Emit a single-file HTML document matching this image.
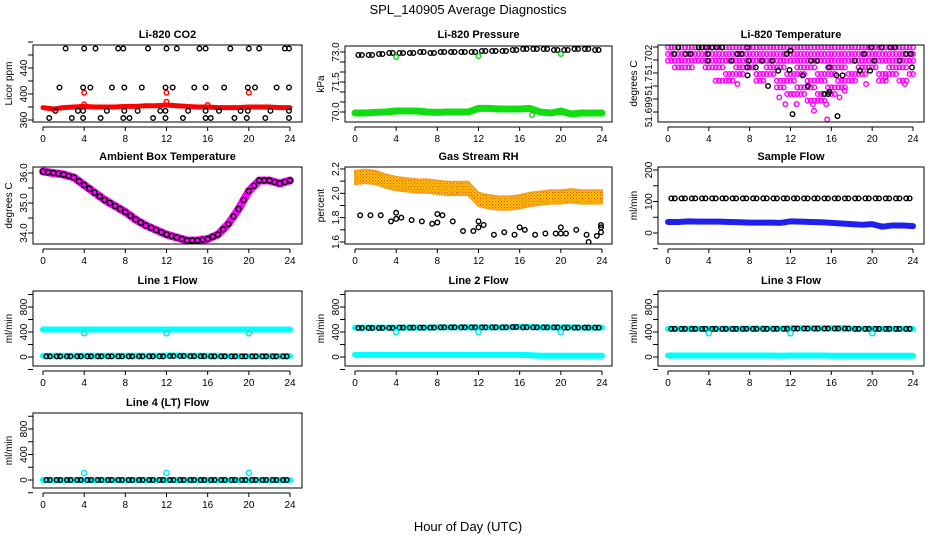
<!DOCTYPE html>
<html><head><meta charset="utf-8"><style>
html,body{margin:0;padding:0;background:#fff;}
svg{display:block;font-family:"Liberation Sans",Arial,sans-serif;}
.tk{font-size:10px;fill:#000;}
.pt{font-size:11px;font-weight:bold;fill:#000;}
</style></head><body>
<svg id="chart" width="936" height="540" viewBox="0 0 936 540">
<defs>
<pattern id="rhpat" width="3" height="3" patternUnits="userSpaceOnUse"><rect width="3" height="3" fill="#ffc800"/><rect width="1" height="1" fill="#e84010"/><rect x="1.5" y="1.5" width="1" height="1" fill="#e84010"/></pattern>
</defs>
<text x="468" y="14" text-anchor="middle" font-size="13">SPL_140905  Average Diagnostics</text>
<text x="468" y="531" text-anchor="middle" font-size="13">Hour of Day (UTC)</text>
</svg>
<script>
// ---------- data ----------
const hourTicks = [0,4,8,12,16,20,24];
const hours = [0,1,2,3,4,5,6,7,8,9,10,11,12,13,14,15,16,17,18,19,20,21,22,23,24];
const halfHours = [0.5,1.5,2.5,3.5,4.5,5.5,6.5,7.5,8.5,9.5,10.5,11.5,12.5,13.5,14.5,15.5,16.5,17.5,18.5,19.5,20.5,21.5,22.5,23.5];

const co2Red = [379,377,379,380,381,380,380,380,381,381,382,382,383,382,381,380,380,379,379,379,380,380,380,379,379];
const co2RedOutHours = [4,12,20,12,4,16];
const co2RedOutVals = [402,402,402,388,384,383];
const co2BlkH470 = [2.2,4,5.1,7.3,7.8,10.2,12,13,15.2,15.8,18.2,20,21,23.5,23.9];
const co2BlkH410 = [1.6,3.9,4.6,6.7,7.9,9.6,11.9,12.6,14.7,15.8,17.6,19.9,20.6,22.7,23.9];
const co2BlkH374 = [1.2,3.4,3.9,6.2,7.9,9.2,11.4,11.9,14.1,15.8,17.1,19.2,19.9,22.1,23.9];
const co2BlkH363 = [0.6,2.8,3.9,5.6,7.8,8.4,10.7,11.9,13.6,15.8,16.3,18.6,19.8,21.6,23.9];
const co2Levels = [470,410,374,363];

const presBlack = [72.85,72.85,72.9,72.95,72.95,72.95,73.0,72.95,73.0,73.0,73.0,73.0,73.05,73.05,73.05,73.1,73.15,73.15,73.15,73.1,73.1,73.15,73.15,73.1];
const presGreen = [69.95,69.95,69.98,70.0,70.05,70.05,70.05,70.0,69.98,70.0,70.0,70.0,70.18,70.18,70.15,70.15,70.15,70.18,70.0,69.95,70.05,69.9,69.95,69.95,69.95];
const presOutHours = [4,12,20,17.2];
const presOutVals = [72.75,72.8,72.9,69.85];

const tempTop = 51.70273, tempStep = 0.000385;
const tempPinkDepth = [3,3,3,3,3,5,5,5,4,5,5,6,7,8,8,9,8,7,6,5,4,5,4,5,4];
const tempPinkStrayH = [6.8,10.9,11.5,12.3,12.6,14.2,14.3,15.6,15.5,16.8,17.3,19.4,21.3,23.2];
const tempPinkStrayL = [5.5,7.5,8.5,7,8.5,8.5,9.5,10.8,8.5,7.5,6.5,5.5,4.5,5.5];
const tempBlkH = [1,3,3.3,3.8,4.3,4.8,5.3,7.8,0.6,1.7,2.2,3.9,6.8,7.2,11.6,19.2,23.3,23.8,3.9,6.2,7.9,9.2,10.2,14,14.6,18.3,20.2,22.7,7.8,11.9,23.9,8.6,10.8,15.8,18.8,19.8,7.8,13.2,16.5,17.1,9.8,13.7,15.3,15.7,15.8,12.2,16.6,19.9,20.9,21.8,22.2,12];
const tempBlkL = [0,0,0,0,0,0,0,0,1,1,1,1,1,1,1,1,1,1,2,2,2,2,2,2,2,2,2,2,3,3.4,3,3,3.5,3,3.5,3.5,4.2,4.2,4.2,4.2,5.8,5.8,7,7,6.7,10,10.3,0,0,0,0,0.5];

const ambTemp = [36.05,36.0,35.95,35.85,35.6,35.35,35.1,34.9,34.7,34.45,34.25,34.1,33.95,33.85,33.75,33.75,33.8,33.95,34.3,34.8,35.4,35.75,35.75,35.65,35.75];

const rhBand = [2.13,2.14,2.13,2.1,2.08,2.07,2.06,2.06,2.05,2.04,2.04,2.04,1.95,1.93,1.92,1.92,1.93,1.95,1.96,1.97,1.97,1.98,1.97,1.97,1.97];
const rhBlack = [1.82,1.82,1.82,1.77,1.80,1.78,1.77,1.75,1.82,1.77,1.69,1.69,1.74,1.66,1.68,1.66,1.70,1.66,1.67,1.67,1.67,1.70,1.66,1.65];
const rhExtraH = [4,4,8,8,12,12,16,20,20,23.9,23.9,23.9,22.7];
const rhExtraV = [1.84,1.79,1.76,1.83,1.77,1.72,1.72,1.72,1.67,1.72,1.68,1.74,1.60];

const sampleBlack = [110,110,110,110,110,110,110,110,110,110,110,110,110,110,110,110,110,110,110,110,110,110,110,110];
const sampleBlue = [35,35,37,36,36,36,35,34,33,33,33,32,37,36,35,34,32,30,28,26,28,20,24,24,22];

const line1Top = [440,440,440,440,440,440,440,440,440,440,440,440,440,440,440,440,440,440,440,440,440,440,440,440,440];
const line1Bot = [20,20,20,20,20,20,20,20,20,20,20,20,25,25,20,20,20,20,15,15,15,15,15,15,15];
const line1Black = [10,10,10,10,10,10,10,10,10,10,10,10,15,15,12,12,10,10,10,10,10,10,10,10];
const line2Top = [470,470,470,470,470,470,470,470,475,475,475,475,475,475,475,475,480,480,475,475,475,475,470,470,470];
const line2Bot = [35,35,35,35,35,35,35,35,35,35,35,35,35,35,35,35,35,30,20,20,20,20,20,20,20];
const line2Black = [465,465,465,465,470,470,470,470,475,475,475,475,475,475,475,480,475,475,475,475,470,470,470,470];
const line3Top = [450,450,450,450,450,450,450,450,455,455,455,455,460,460,460,460,460,460,455,450,450,450,450,450,450];
const line3Bot = [25,25,25,25,25,25,25,25,25,25,25,20,25,25,25,25,20,20,20,20,20,20,20,20,20];
const line3Black = [450,450,450,450,450,450,450,450,450,450,450,450,455,455,455,455,455,455,450,450,450,450,450,450];
const line4Base = [0,0,0,0,0,0,0,0,0,0,0,0,0,0,0,0,0,0,0,0,0,0,0,0,0];
const line4Black = [0,0,0,0,0,0,0,0,0,0,0,0,0,0,0,0,0,0,0,0,0,0,0,0];
const flowOutHours = [4,12,20];
const line1Out = [380,380,380];
const line2Out = [400,400,400];
const line3Out = [380,380,380];
const line4Out = [110,110,110];

// ---------- helpers ----------
const NS = 'http://www.w3.org/2000/svg';
const svg = document.getElementById('chart');
function mk(tag, parent){ const e = document.createElementNS(NS, tag); parent.appendChild(e); return e; }
function attr(e, o){ for (const k in o) e.setAttribute(k, o[k]); return e; }

const cols = [
  {L:33, R:302, x0:43, x24:290},
  {L:345, R:612, x0:355, x24:602},
  {L:658, R:924, x0:668, x24:913}
];
const rows = [{T:45,B:122},{T:167,B:244},{T:291,B:366},{T:413,B:488}];

function panel(name, title, ci, ri, yTitle, yv1, yp1, yv2, yp2, ticks, labels, T){
  const c = cols[ci], r = rows[ri];
  const top = T || r.T;
  const g = mk('g', svg);
  
  
  const X = h => c.x0 + h * (c.x24 - c.x0) / 24;
  const Y = v => yp1 + (v - yv1) * (yp2 - yp1) / (yv2 - yv1);
  const marks = mk('g', g);
  
  
  const clip = mk('clipPath', g); clip.id = 'clip-' + name;
  attr(mk('rect', clip), {x:c.L, y:top, width:c.R-c.L, height:r.B-top});
  marks.setAttribute('clip-path', 'url(#clip-' + name + ')');
  const box = attr(mk('rect', g), {x:c.L, y:top, width:c.R-c.L, height:r.B-top, fill:'none', stroke:'#000', 'stroke-width':1});
  
  
  const t = mk('text', g); attr(t, {x:(c.L+c.R)/2, y:r.T-7, 'text-anchor':'middle', class:'pt'}); t.textContent = title;
  
  
  // x axis
  const xa = mk('g', g);
  
  
  attr(mk('line', xa), {x1:X(0), x2:X(24), y1:r.B+5, y2:r.B+5, stroke:'#000'});
  hourTicks.forEach(h => {
    attr(mk('line', xa), {x1:X(h), x2:X(h), y1:r.B+5, y2:r.B+9, stroke:'#000'});
    const lt = mk('text', xa); attr(lt, {x:X(h), y:r.B+20, 'text-anchor':'middle', class:'tk'}); lt.textContent = h;
    
    
  });
  // y axis
  const ya = mk('g', g);
  
  
  const ax = c.L;
  ticks.forEach((v, i) => {
    attr(mk('line', ya), {x1:ax-5, x2:ax, y1:Y(v), y2:Y(v), stroke:'#000'});
    if (labels[i] !== '') {
      const lx = ax - 6;
      const lt = mk('text', ya); attr(lt, {x:lx, y:Y(v), 'text-anchor':'middle', class:'tk', transform:'rotate(-90 '+lx+' '+Y(v)+')'}); lt.textContent = labels[i];
      
      
    }
  });
  const yt = mk('text', ya); const tx = c.L - 21, ty = (top + r.B)/2;
  attr(yt, {x:tx, y:ty, 'text-anchor':'middle', class:'tk', transform:'rotate(-90 '+tx+' '+ty+')'}); yt.textContent = yTitle;
  
  
  return {X, Y, g:marks};
}
function circ(p, h, v, col, nm, rad){
  const e = attr(mk('circle', p.g), {cx:p.X(h), cy:p.Y(v), r:rad||2.3, fill:'none', stroke:col, 'stroke-width':1.4});
  
  
  return e;
}
function band(p, hs, vs, col, w, nm){
  const e = attr(mk('polyline', p.g), {points: hs.map((h,i)=>p.X(h)+','+p.Y(vs[i])).join(' '), fill:'none', stroke:col, 'stroke-width':w, 'stroke-linejoin':'round', 'stroke-linecap':'round'});
  
  
  return e;
}
function stepPoints(p, vals, col, nm){
  halfHours.forEach((h, i) => { [-0.17, 0.17].forEach(d => circ(p, h + d, vals[i], col, nm)); });
}

// ---------- CO2 ----------
let p = panel('co2', 'Li-820 CO2', 0, 0, 'Licor ppm', 360, 120, 440, 68, [360,380,400,420,440,460,480], ['360','','400','','440','','']);
band(p, hours, co2Red, '#ff0000', 5, 'co2-red-series');
co2RedOutHours.forEach((h,i) => circ(p, h, co2RedOutVals[i], '#ff0000', 'co2-red-outlier'));
[co2BlkH470, co2BlkH410, co2BlkH374, co2BlkH363].forEach((arr, k) => arr.forEach(h => circ(p, h, co2Levels[k], '#000', 'co2-black-point')));

// ---------- Pressure ----------
p = panel('pressure', 'Li-820 Pressure', 1, 0, 'kPa', 70, 112, 73, 52, [70,70.5,71,71.5,72,72.5,73], ['70.0','','','71.5','','','73.0'], 46);
band(p, hours, presGreen, '#11dd11', 7, 'pressure-green-series');
stepPoints(p, presBlack, '#000', 'pressure-black-point');
presOutHours.forEach((h,i) => circ(p, h, presOutVals[i], '#11cc11', 'pressure-outlier'));

// ---------- Li-820 Temperature ----------
p = panel('li820-temp', 'Li-820 Temperature', 2, 0, 'degrees C', 51.699, 112, 51.702, 60, [51.699,51.69975,51.7005,51.70125,51.702,51.70275], ['51.699','','51.7','','51.702','']);
const lv = k => tempTop - k * tempStep;
hours.forEach((h, i) => {
  for (let k = 0; k <= tempPinkDepth[i]; k++) {
    if (k > 2 && (k + i) % 3 === 0) continue;
    [-0.33, 0, 0.33].forEach(d => { if (h + d >= 0 && h + d <= 24) circ(p, h + d, lv(k), '#ff00ff', 'temp-pink-point'); });
  }
});
tempPinkStrayH.forEach((h,i) => circ(p, h, lv(tempPinkStrayL[i]), '#ff00ff', 'temp-pink-stray'));
tempBlkH.forEach((h,i) => circ(p, h, lv(tempBlkL[i]), '#000', 'temp-black-point'));

// ---------- Ambient Box Temperature ----------
p = panel('ambient', 'Ambient Box Temperature', 0, 1, 'degrees C', 34, 233, 36, 173, [34,34.5,35,35.5,36], ['34.0','','35.0','','36.0']);
band(p, hours, ambTemp, '#ff00ff', 8, 'ambient-magenta-series');
hours.forEach((h,i) => circ(p, h, ambTemp[i], '#000', 'ambient-black-point', 2.6));
halfHours.forEach((h,i) => circ(p, h, (ambTemp[i] + ambTemp[i+1]) / 2, '#000', 'ambient-black-point', 2.6));

// ---------- Gas Stream RH ----------
p = panel('rh', 'Gas Stream RH', 1, 1, 'percent', 1.6, 242, 2.2, 169, [1.6,1.7,1.8,1.9,2.0,2.1,2.2], ['1.6','','1.8','','2.0','','2.2']);
{
  const up = hours.map((h,i)=>p.X(h)+','+p.Y(rhBand[i]+0.055));
  const dn = hours.map((h,i)=>p.X(h)+','+p.Y(rhBand[i]-0.055)).reverse();
  const poly = attr(mk('polygon', p.g), {points: up.concat(dn).join(' '), fill:'url(#rhpat)', stroke:'#f5a020', 'stroke-width':2, 'stroke-linejoin':'round'});
  
  
}
halfHours.forEach((h,i) => circ(p, h, rhBlack[i], '#000', 'rh-black-point'));
rhExtraH.forEach((h,i) => circ(p, h, rhExtraV[i], '#000', 'rh-black-point'));

// ---------- Sample Flow ----------
p = panel('sample', 'Sample Flow', 2, 1, 'ml/min', 0, 233, 200, 170, [-50,0,50,100,150,200], ['','0','','100','','200']);
band(p, hours, sampleBlue, '#2020ee', 6, 'sample-blue-series');
stepPoints(p, sampleBlack, '#000', 'sample-black-point');

// ---------- Line flows ----------
const fTicks = [-200,0,200,400,600,800,1000], fLabels = ['','0','','400','','800',''];
function flowPanel(name, title, ci, ri, top, bot, blk, out){
  const z = ri === 2 ? 357 : 480, e8 = ri === 2 ? 307 : 429;
  const q = panel(name, title, ci, ri, 'ml/min', 0, z, 800, e8, fTicks, fLabels);
  band(q, hours, top, '#00ffff', 6, name + '-cyan-top');
  band(q, hours, bot, '#00ffff', 6, name + '-cyan-bottom');
  stepPoints(q, blk, '#000', name + '-black-point');
  flowOutHours.forEach((h,i) => circ(q, h, out[i], '#00e5e5', name + '-outlier', 2.6));
}
flowPanel('line1', 'Line 1 Flow', 0, 2, line1Top, line1Bot, line1Black, line1Out);
flowPanel('line2', 'Line 2 Flow', 1, 2, line2Top, line2Bot, line2Black, line2Out);
flowPanel('line3', 'Line 3 Flow', 2, 2, line3Top, line3Bot, line3Black, line3Out);
flowPanel('line4', 'Line 4 (LT) Flow', 0, 3, line4Base, line4Base, line4Black, line4Out);
</script>
</body></html>
